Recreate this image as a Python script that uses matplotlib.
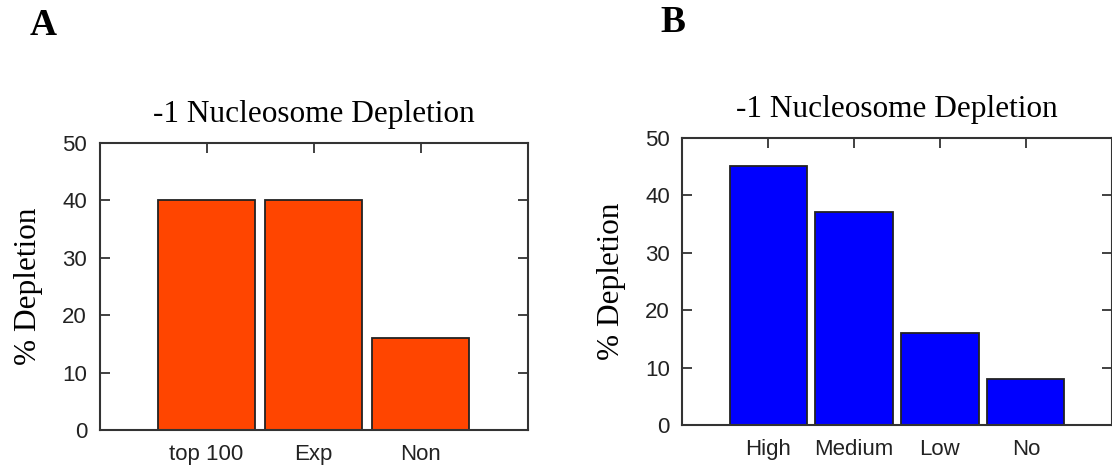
import matplotlib.pyplot as plt

# Panel A
cats_a = ['top 100', 'Exp', 'Non']
vals_a = [40, 40, 16]
# Panel B
cats_b = ['High', 'Medium', 'Low', 'No']
vals_b = [45, 37, 16, 8]

yticks = [0, 10, 20, 30, 40, 50]
title = '-1 Nucleosome Depletion'
ylabel = '% Depletion'

SERIF = 'Liberation Serif'
SANS = 'Liberation Sans'


def panel(ax, cats, vals, color, letter, letter_x, letter_y):
    pos = list(range(1, len(cats) + 1))
    ax.bar(pos, vals, width=0.9, color=color, edgecolor='#222222', linewidth=1.3)
    ax.set_xlim(0, len(cats) + 1)
    ax.set_ylim(0, 50)
    ax.set_xticks(pos)
    ax.set_xticklabels(cats, fontfamily=SANS, fontsize=16, color='#222222')
    ax.set_yticks(yticks)
    ax.set_yticklabels([str(v) for v in yticks], fontfamily=SANS, fontsize=16, color='#222222')
    ax.tick_params(direction='in', length=7.5, width=1.3, color='#333333',
                   top=True, right=True)
    ax.tick_params(axis='x', pad=10)
    ax.tick_params(axis='y', pad=9)
    ax.set_axisbelow(True)
    for s in ax.spines.values():
        s.set_linewidth(1.5)
        s.set_color('#333333')
    ax.set_title(title, fontfamily=SERIF, fontsize=22.5, pad=15)
    ax.set_ylabel(ylabel, fontfamily=SERIF, fontsize=22.5, labelpad=14)
    fig.text(letter_x, letter_y, letter, fontfamily=SERIF, fontsize=27,
             fontweight='bold', ha='left', va='center')


fig = plt.figure(figsize=(11.12, 4.68), dpi=100)
ax_a = fig.add_axes([0.0895, 0.081, 0.385, 0.614])
ax_b = fig.add_axes([0.6137, 0.091, 0.386, 0.615])

panel(ax_a, cats_a, vals_a, '#ff4500', 'A', 0.027, 0.945)
panel(ax_b, cats_b, vals_b, '#0000ff', 'B', 0.594, 0.952)

fig.savefig('out.png', dpi=100)
